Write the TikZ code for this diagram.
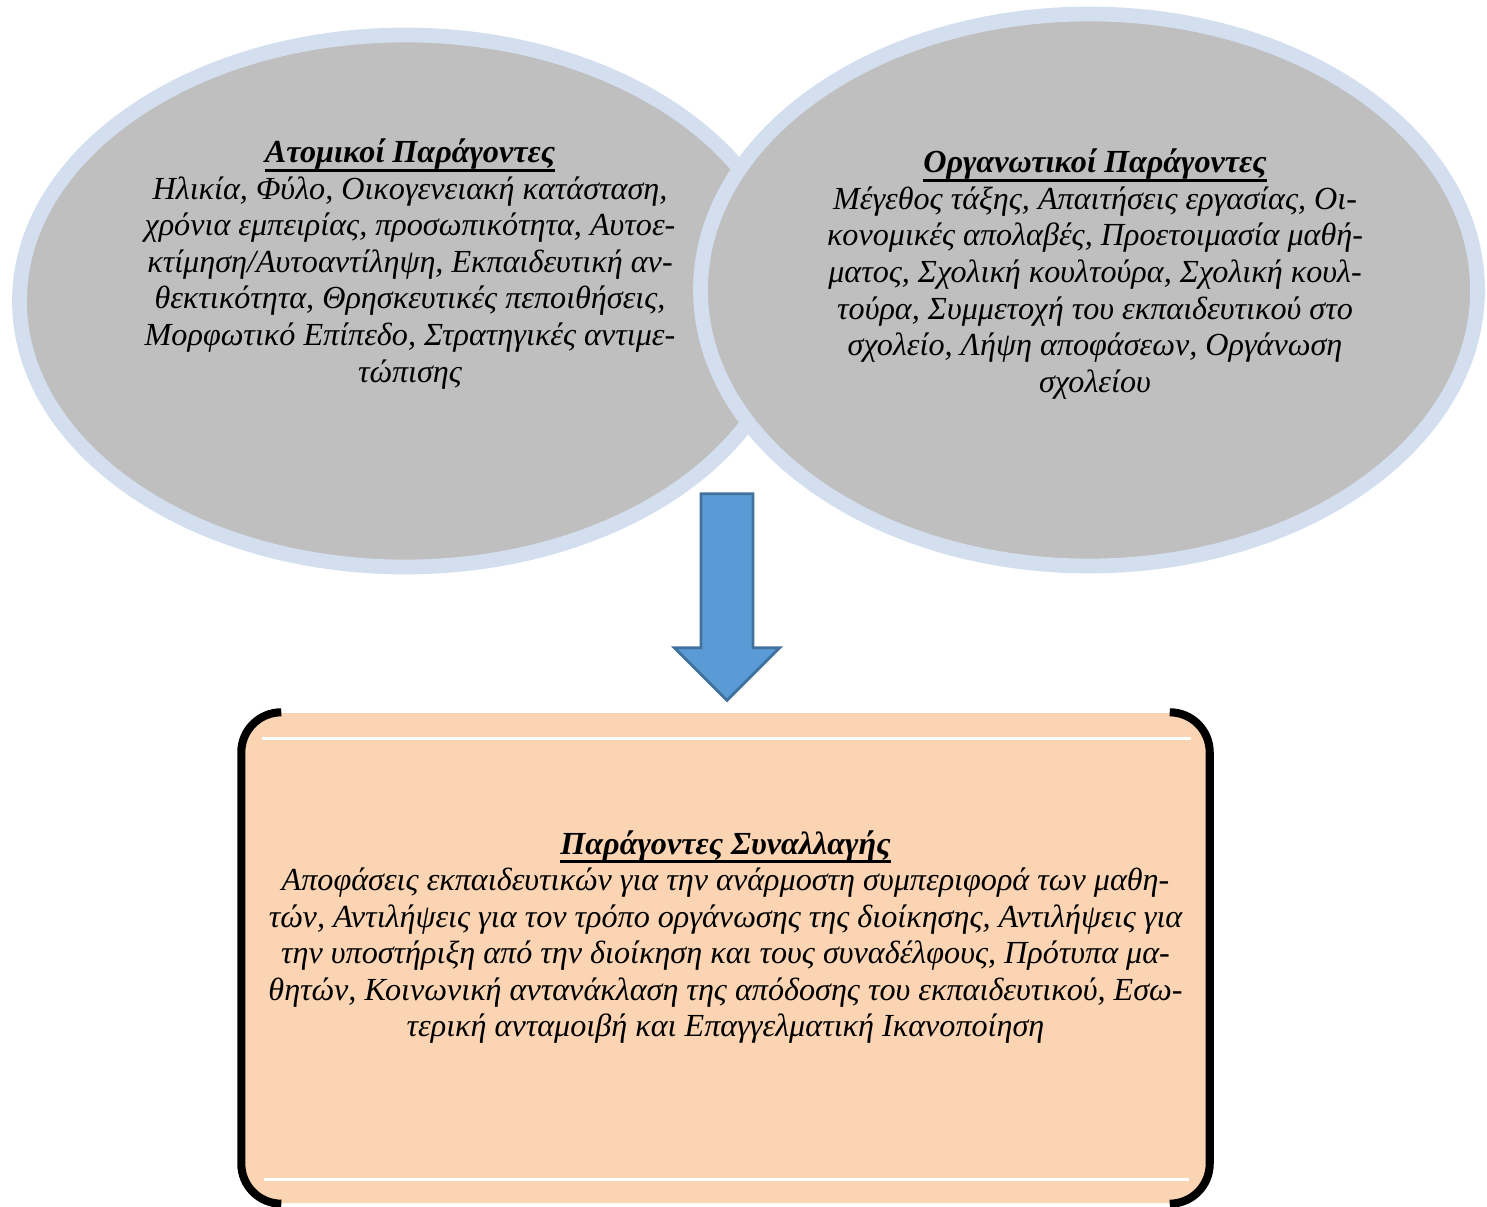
\documentclass[tikz,border=0pt]{standalone}
\usepackage{fontspec}
\setmainfont{Liberation Serif}
\usetikzlibrary{shapes.geometric, positioning}

\definecolor{ovalgray}{RGB}{191,191,191}
\definecolor{ovalrim}{RGB}{211,223,239}
\definecolor{peach}{RGB}{251,212,180}
\definecolor{arrowblue}{RGB}{91,155,213}
\definecolor{arrowrim}{RGB}{65,113,156}
\newsavebox{\headbox}
\newcommand{\headtxt}[1]{\sbox{\headbox}{\textbf{#1}}\makebox[0pt][l]{\raisebox{-2.5pt}{\rule{\wd\headbox}{0.8pt}}}\usebox{\headbox}}

\begin{document}
\begin{tikzpicture}[
    factor/.style={ellipse, fill=ovalgray, draw=ovalrim, line width=4.2pt},
    factortext/.style={align=center, inner sep=0pt, font=\fontsize{9.15}{10.4}\selectfont\itshape},
    sidestroke/.style={line width=2.3pt, rounded corners=4mm},
    whiteline/.style={white, line width=0.8pt}
]
    \useasboundingbox (0,0) rectangle (14.87,-12.07);
    % the two groups of factors
    \node[factor, minimum width=7.71cm, minimum height=5.32cm] (atomic) at (4.05,-3.01) {};
    \node[factor, minimum width=7.77cm, minimum height=5.52cm] (organ) at (10.89,-2.90) {};

    \node[factortext] (atomictext) at ([xshift=0.5mm, yshift=3.7mm]atomic.center) {\headtxt{Ατομικοί Παράγοντες}\\
        Ηλικία, Φύλο, Οικογενειακή κατάσταση,\\
        χρόνια εμπειρίας, προσωπικότητα, Αυτοε-\\
        κτίμηση/Αυτοαντίληψη, Εκπαιδευτική αν-\\
        θεκτικότητα, Θρησκευτικές πεποιθήσεις,\\
        Μορφωτικό Επίπεδο, Στρατηγικές αντιμε-\\
        τώπισης};
    \node[factortext] (organtext) at ([xshift=0.6mm, yshift=1.6mm]organ.center) {\headtxt{Οργανωτικοί Παράγοντες}\\
        Μέγεθος τάξης, Απαιτήσεις εργασίας, Οι-\\
        κονομικές απολαβές, Προετοιμασία μαθή-\\
        ματος, Σχολική κουλτούρα, Σχολική κουλ-\\
        τούρα, Συμμετοχή του εκπαιδευτικού στο\\
        σχολείο, Λήψη αποφάσεων, Οργάνωση\\
        σχολείου};

    % transaction box
    \node[fill=peach, rounded corners=4mm, minimum width=9.67cm, minimum height=4.90cm, inner sep=0pt] (trans) at (7.255,-9.58) {};
    \draw[sidestroke] ([xshift=4mm]trans.north west) -- (trans.north west) -- (trans.south west) -- ([xshift=4mm]trans.south west);
    \draw[sidestroke] ([xshift=-4mm]trans.north east) -- (trans.north east) -- (trans.south east) -- ([xshift=-4mm]trans.south east);
    \draw[whiteline] ([xshift=2.1mm, yshift=-2.6mm]trans.north west) -- ([xshift=-1.9mm, yshift=-2.6mm]trans.north east);
    \draw[whiteline] ([xshift=2.3mm, yshift=2.4mm]trans.south west) -- ([xshift=-2.1mm, yshift=2.4mm]trans.south east);

    \node[factortext] (transtext) at ([yshift=2.1mm]trans.center) {\headtxt{Παράγοντες Συναλλαγής}\\
        Αποφάσεις εκπαιδευτικών για την ανάρμοστη συμπεριφορά των μαθη-\\
        τών, Αντιλήψεις για τον τρόπο οργάνωσης της διοίκησης, Αντιλήψεις για\\
        την υποστήριξη από την διοίκηση και τους συναδέλφους, Πρότυπα μα-\\
        θητών, Κοινωνική αντανάκλαση της απόδοσης του εκπαιδευτικού, Εσω-\\
        τερική ανταμοιβή και Επαγγελματική Ικανοποίηση};

    % block arrow down to the box
    \coordinate (tip) at ([xshift=0.15mm, yshift=1.2mm]trans.north);
    \draw[arrowrim, fill=arrowblue, line width=0.8pt, line join=miter] (tip) -- ++(-0.525,0.525) -- ++(0.265,0) -- ++(0,1.54) -- ++(0.52,0) -- ++(0,-1.54) -- ++(0.265,0) -- cycle;
\end{tikzpicture}
\end{document}
